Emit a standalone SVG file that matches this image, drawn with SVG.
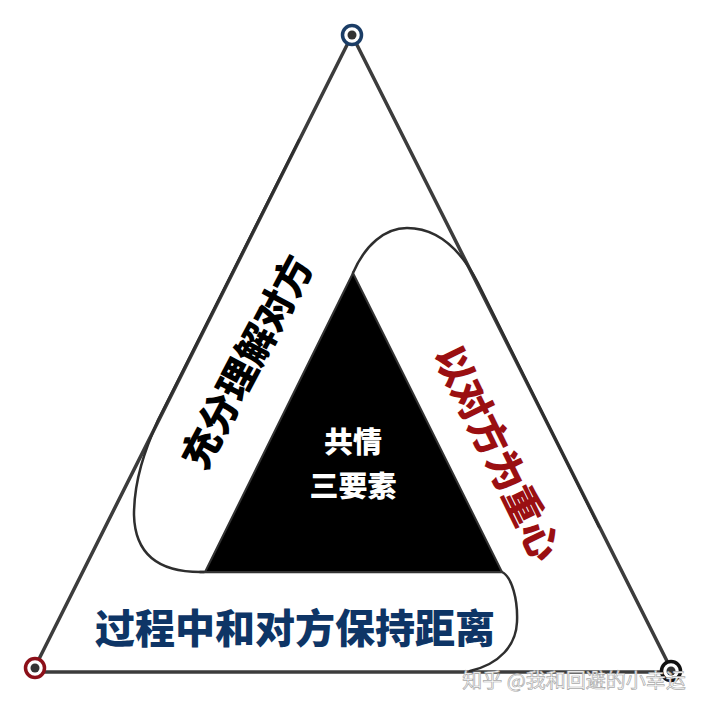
<svg xmlns="http://www.w3.org/2000/svg" width="707" height="709" viewBox="0 0 707 709">
<style>
.edge{fill:none;stroke:#3c3c3c;stroke-width:3.5;stroke-linecap:round}
.loop{fill:none;stroke:#2e2e2e;stroke-width:2.5;stroke-linecap:round}
.t{font-family:"Noto Sans CJK SC","Noto Sans CJK JP",sans-serif;font-weight:900;text-anchor:middle}
.dot{fill:#333}
</style>
<rect width="707" height="709" fill="#ffffff"/>
<g id="connectors">
<path class="edge" d="M352 35 L35 667"/>
<path class="edge" d="M40 672 L666 672"/>
<path class="edge" d="M352 35 L672 671"/>
</g>
<g id="loop-left">
<path class="loop" d="M204 572 C160 573 135 555 134 515 C134 480 145 450 158 420 L299 140"/>
</g>
<g id="loop-right">
<path class="loop" d="M353 273 C365 245 385 228 407 228 C440 228 462 252 478 283 L599 527"/>
</g>
<g id="loop-bottom">
<path class="loop" d="M200 572 L502 572 C512 577 518 600 517 622 C516 645 500 664 470 671"/>
</g>
<g id="core">
<polygon points="353,273 205,572 502,572" fill="#000" stroke="#333" stroke-width="2"/>
<text class="t" x="353" y="453" font-size="29" fill="#fff">共情</text>
<text class="t" x="353" y="497" font-size="29" fill="#fff">三要素</text>
</g>
<g id="label-left">
<text class="t" font-size="39" fill="#000" transform="translate(247,362) rotate(-62)" y="14">充分理解对方</text>
</g>
<g id="label-right">
<text class="t" font-size="39" fill="#9a0f12" transform="translate(497,453) rotate(64)" y="14">以对方为重心</text>
</g>
<g id="label-bottom">
<text class="t" x="295" y="643" font-size="40" fill="#0e3566">过程中和对方保持距离</text>
</g>
<g id="vertex-top">
<circle cx="352" cy="35" r="9.5" fill="#fff" stroke="#1b3d66" stroke-width="3.5"/>
<circle class="dot" cx="352" cy="35" r="4.5"/>
</g>
<g id="vertex-left">
<circle cx="35" cy="668" r="9.5" fill="#fff" stroke="#8c1019" stroke-width="3.5"/>
<circle class="dot" cx="35" cy="668" r="4.5"/>
</g>
<g id="vertex-right">
<circle cx="671" cy="671" r="9.5" fill="#fff" stroke="#111" stroke-width="3.5"/>
<circle class="dot" cx="671" cy="671" r="4.5"/>
</g>
<text x="574" y="688" font-family="Noto Sans CJK SC, sans-serif" font-size="20" text-anchor="middle" fill="#fff" stroke="#aaa" stroke-width="0.7">知乎 @我和回避的小幸运</text>
</svg>
